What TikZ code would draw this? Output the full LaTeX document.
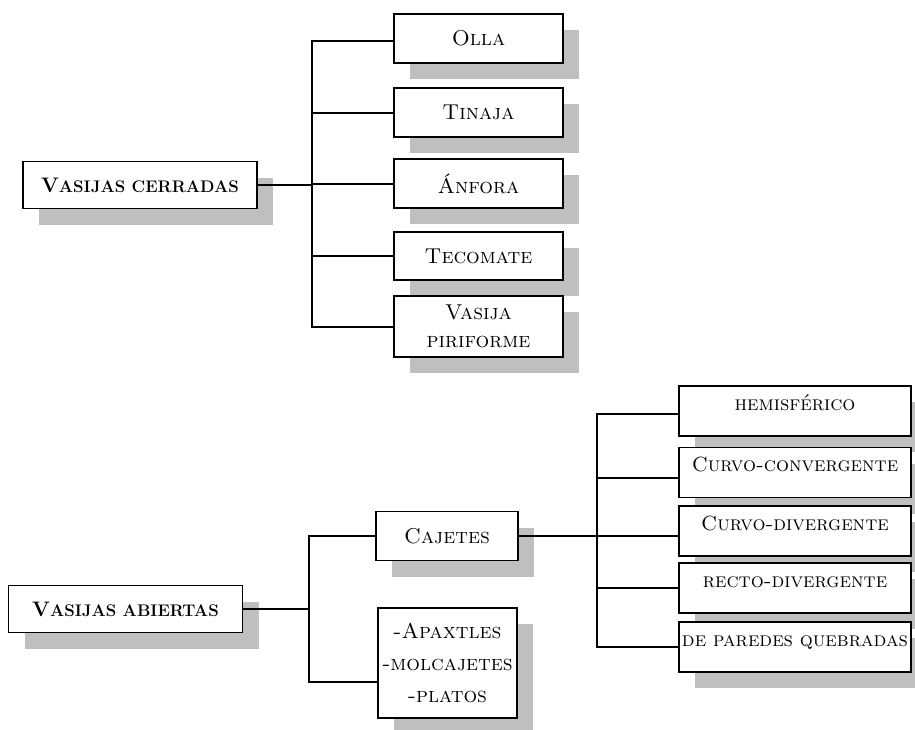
\documentclass[tikz,border=0pt]{standalone}
\usepackage{tikz}
\usetikzlibrary{shadows}
\newcommand{\fakesc}[1]{{\fontsize{16.8}{20}\selectfont\MakeUppercase{#1}}}

\begin{document}
\begin{tikzpicture}[x=1pt,y=-1pt,
  tipo/.style={draw, line width=1.8pt, fill=white, inner sep=0pt, align=center,
    font=\fontsize{21.5}{26}\selectfont\scshape,
    drop shadow={shadow xshift=16pt, shadow yshift=-16pt, fill=black!25, opacity=1}},
  grupo/.style={tipo, font=\fontsize{21}{26}\selectfont\bfseries, minimum width=234, minimum height=47},
  forma/.style={tipo, font=\fontsize{20.5}{26}\selectfont\scshape, text width=232pt,
    text height=24pt, text depth=26pt},
  rama/.style={line width=2pt, line cap=rect}]
\useasboundingbox (0,0) rectangle (915,729);

\node[grupo] (cerr) at (140,185) {V\fakesc{asijas cerradas}};
\node[tipo, minimum width=169, minimum height=49] (olla) at (478.5,38.5) {Olla};
\node[tipo, minimum width=169, minimum height=49] (tinaja) at (478.5,112.5) {Tinaja};
\node[tipo, minimum width=169, minimum height=49] (anfora) at (478.5,183.5) {Ánfora};
\node[tipo, minimum width=169, minimum height=48] (tecomate) at (478.5,256) {Tecomate};
\node[tipo, minimum width=169, minimum height=61] (piri) at (478.5,326.5) {Vasija\\[2pt]piriforme};

\coordinate (c1) at (312,41);
\coordinate (c2) at (312,113);
\coordinate (c3) at (312,184);
\coordinate (c4) at (312,256);
\coordinate (c5) at (312,327);
\draw[rama] (c1) -- (c5);
\draw[rama] (cerr.east) -- (cerr.east -| c3);
\foreach \p/\n in {c1/olla, c2/tinaja, c3/anfora, c4/tecomate, c5/piri}
  \draw[rama] (\p) -- (\p -| \n.west);

\node[grupo] (abie) at (125.5,609) {V\fakesc{asijas abiertas}};
\node[tipo, minimum width=142, minimum height=49] (caje) at (447,536) {Cajetes};
\node[tipo, minimum width=139, minimum height=110] (apax) at (447.5,663) {-Apaxtles\\[6pt]-molcajetes\\[6pt]-platos};

\coordinate (a1) at (309,536);
\coordinate (a2) at (309,682);
\draw[rama] (a1) -- (a2);
\draw[rama] (abie.east) -- (abie.east -| a1);
\draw[rama] (a1) -- (a1 -| caje.west);
\draw[rama] (a2) -- (a2 -| apax.west);

\node[forma] (hemi) at (795,411) {hemisférico};
\node[forma] (cconv) at (795,472.5) {Curvo-convergente};
\node[forma] (cdiv) at (795,531) {Curvo-divergente};
\node[forma] (rdiv) at (795,588) {recto-divergente};
\node[forma] (queb) at (795,647) {de paredes quebradas};

\coordinate (f1) at (597,414);
\coordinate (f2) at (597,478);
\coordinate (f3) at (597,536);
\coordinate (f4) at (597,588);
\coordinate (f5) at (597,647);
\draw[rama] (f1) -- (f5);
\draw[rama] (caje.east) -- (caje.east -| f3);
\foreach \p/\n in {f1/hemi, f2/cconv, f3/cdiv, f4/rdiv, f5/queb}
  \draw[rama] (\p) -- (\p -| \n.west);
\end{tikzpicture}
\end{document}
